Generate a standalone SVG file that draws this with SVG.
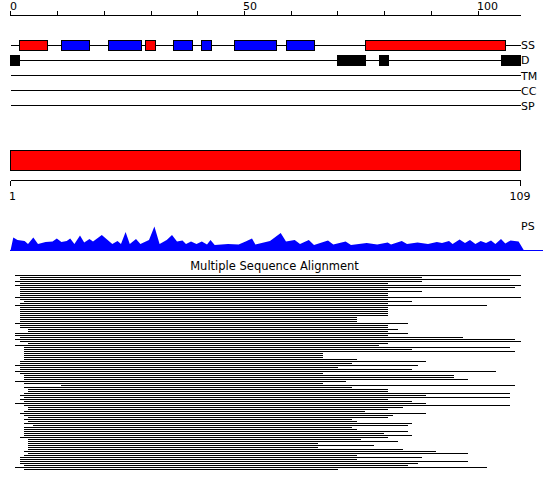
<svg xmlns="http://www.w3.org/2000/svg" width="550" height="495" viewBox="0 0 550 495">
<style>
text{font-family:"DejaVu Sans","Liberation Sans",sans-serif;font-size:11px;fill:#000}
.ln{stroke:#000;stroke-width:1;fill:none;shape-rendering:crispEdges}
.red{fill:#ff0000;stroke:#000;stroke-width:1;shape-rendering:crispEdges}
.blue{fill:#0000ff;stroke:#000;stroke-width:1;shape-rendering:crispEdges}
.blk{fill:#000;stroke:#000;stroke-width:1;shape-rendering:crispEdges}
</style>
<rect width="550" height="495" fill="#fff"/>
<g id="ruler-top">
<path class="ln" d="M10.5 15.5H521M10.5 10.5V15.5M57.5 10.5V15.5M104.5 10.5V15.5M151.5 10.5V15.5M197.5 10.5V15.5M244.5 10.5V15.5M291.5 10.5V15.5M337.5 10.5V15.5M384.5 10.5V15.5M431.5 10.5V15.5M478.5 10.5V15.5"/>
<text x="10" y="10">0</text>
<text x="243" y="10">50</text>
<text x="477" y="10">100</text>
</g>
<g id="track-SS">
<path class="ln" d="M10.5 45.5H521"/>
<rect class="red" x="19.5" y="40.5" width="28" height="10"/>
<rect class="blue" x="61.5" y="40.5" width="28" height="10"/>
<rect class="blue" x="108.5" y="40.5" width="33" height="10"/>
<rect class="red" x="145.5" y="40.5" width="10" height="10"/>
<rect class="blue" x="173.5" y="40.5" width="19" height="10"/>
<rect class="blue" x="201.5" y="40.5" width="10" height="10"/>
<rect class="blue" x="234.5" y="40.5" width="42" height="10"/>
<rect class="blue" x="286.5" y="40.5" width="28" height="10"/>
<rect class="red" x="365.5" y="40.5" width="140" height="10"/>
<text x="521" y="49">SS</text>
</g>
<g id="track-D">
<path class="ln" d="M10.5 60.5H521"/>
<rect class="blk" x="10.5" y="55.5" width="9" height="10"/>
<rect class="blk" x="337.5" y="55.5" width="28" height="10"/>
<rect class="blk" x="379.5" y="55.5" width="9" height="10"/>
<rect class="blk" x="501.5" y="55.5" width="19" height="10"/>
<text x="521" y="64">D</text>
</g>
<g id="track-TM">
<path class="ln" d="M10.5 75.5H521"/>
<text x="521" y="79.5">TM</text>
</g>
<g id="track-CC">
<path class="ln" d="M10.5 90.5H521"/>
<text x="521" y="94.5">CC</text>
</g>
<g id="track-SP">
<path class="ln" d="M10.5 105.5H521"/>
<text x="521" y="109.5">SP</text>
</g>
<g id="domain-bar">
<rect class="red" x="10.5" y="150.5" width="510" height="20"/>
<path class="ln" d="M10.5 180.5H520.5M10.5 180.5V185.5M520.5 180.5V185.5"/>
<text x="9" y="200">1</text>
<text x="520" y="200" text-anchor="middle">109</text>
</g>
<g id="PS">
<polygon fill="#0000ff" points="10.5,250.5 13.3,237.5 17.5,240 24.6,241 28,244 33.3,237.5 38,244 45.6,242 52.6,241.5 56.8,238.5 61.4,242 66.7,241 70.2,238.5 74.4,244 80,235.5 84.2,242.5 89.5,239 93,241.5 101.8,235 112.3,244 117.5,241 121,244 125.6,232 129.8,244 136,239 140.4,244 149,240 154.4,226.5 159.6,244 166.7,240 172,235 177,241.5 182.5,240.5 186,244 191,241.5 196.5,244 201.8,241.5 207,244.5 210.5,240 214.7,245 228,244 238.6,244.5 245.6,241.5 252,238.5 255.4,244.5 270,241 280.7,233 286,241.5 294.7,240 300,244 308.8,240 314,245 328,240.5 333.3,244.5 345.6,241.5 351,245 366.7,243 377.2,244.5 387.7,242.5 391,244.5 401.8,241 407,244 417.5,242.5 428,244 436.8,242 442,243 449,241 452.6,244 459.6,239.5 465,243 470,240 475.4,244 480.7,241 486,243 491,240.5 495.4,244 501,239 505.3,243.5 510.5,240.5 518.6,241.5 524,250.5"/>
<path d="M10 250.5H543" stroke="#0000ff" stroke-width="1" shape-rendering="crispEdges"/>
<text x="521" y="230">PS</text>
</g>
<g id="MSA">
<text x="274.5" y="270" text-anchor="middle" style="font-size:11.5px">Multiple Sequence Alignment</text>
<path class="ln" d="M15 275.5H521M20 277.5H422M20 279.5H510M15 281.5H422M20 283.5H388M15 285.5H521M20 287.5H515M20 289.5H388M20 291.5H422M20 293.5H388M20 295.5H388M15 297.5H521M20 299.5H388M24 301.5H412M20 303.5H388M15 305.5H487M20 307.5H388M20 309.5H388M20 311.5H388M20 313.5H388M20 315.5H388M20 317.5H357M20 319.5H357M20 321.5H357M15 323.5H408M20 325.5H388M20 327.5H388M28 329.5H398M28 331.5H388M15 333.5H408M15 335.5H388M20 337.5H463M15 339.5H515M20 341.5H521M28 343.5H388M15 345.5H379M24 347.5H510M24 349.5H412M24 351.5H515M24 353.5H323M24 355.5H323M24 357.5H323M24 359.5H357M20 361.5H426M20 363.5H352M15 365.5H418M20 367.5H338M20 369.5H412M15 371.5H496M20 373.5H323M24 375.5H454M24 377.5H454M24 379.5H468M15 381.5H346M24 383.5H323M61 385.5H515M24 387.5H352M28 389.5H388M28 391.5H388M24 393.5H510M20 395.5H426M24 397.5H510M20 399.5H388M24 401.5H412M15 403.5H426M24 405.5H510M28 407.5H403M28 409.5H388M24 411.5H365M20 413.5H426M24 415.5H393M28 417.5H388M24 419.5H352M28 421.5H357M24 423.5H412M33 425.5H408M24 427.5H352M24 429.5H357M24 431.5H408M24 433.5H384M24 435.5H412M20 437.5H388M28 439.5H361M28 441.5H398M28 443.5H318M28 445.5H374M28 447.5H318M28 449.5H403M24 451.5H436M28 453.5H468M24 455.5H357M20 457.5H422M20 459.5H357M20 461.5H468M20 463.5H418M24 465.5H408M15 467.5H487M24 469.5H338"/>
</g>
</svg>
